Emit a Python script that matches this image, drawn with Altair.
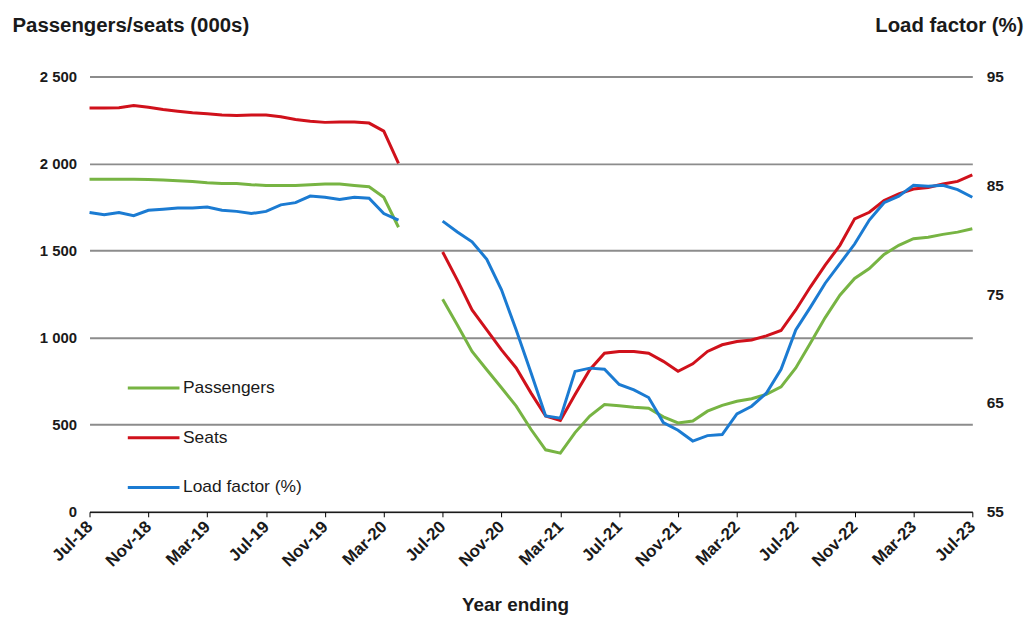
import altair as alt
import pandas as pd

months = [
    "Jul-18", "Aug-18", "Sep-18", "Oct-18", "Nov-18", "Dec-18",
    "Jan-19", "Feb-19", "Mar-19", "Apr-19", "May-19", "Jun-19",
    "Jul-19", "Aug-19", "Sep-19", "Oct-19", "Nov-19", "Dec-19",
    "Jan-20", "Feb-20", "Mar-20", "Apr-20", "May-20", "Jun-20",
    "Jul-20", "Aug-20", "Sep-20", "Oct-20", "Nov-20", "Dec-20",
    "Jan-21", "Feb-21", "Mar-21", "Apr-21", "May-21", "Jun-21",
    "Jul-21", "Aug-21", "Sep-21", "Oct-21", "Nov-21", "Dec-21",
    "Jan-22", "Feb-22", "Mar-22", "Apr-22", "May-22", "Jun-22",
    "Jul-22", "Aug-22", "Sep-22", "Oct-22", "Nov-22", "Dec-22",
    "Jan-23", "Feb-23", "Mar-23", "Apr-23", "May-23", "Jun-23",
    "Jul-23",
]

passengers = [
    1910, 1910, 1910, 1910, 1908, 1905, 1901, 1897, 1889, 1885, 1885, 1878,
    1874, 1874, 1874, 1878, 1882, 1882, 1874, 1866, 1806, 1634, None, None,
    1220, 1073, 921, 816, 712, 607, 474, 356, 337, 455, 550, 616,
    609, 601, 595, 545, 510, 521, 578, 611, 635, 649, 674, 717,
    826, 969, 1115, 1244, 1340, 1397, 1478, 1530, 1568, 1577, 1593, 1606,
    1625,
]

seats = [
    2319, 2319, 2320, 2333, 2323, 2310, 2300, 2291, 2285, 2278, 2276, 2278,
    2278, 2268, 2253, 2243, 2236, 2238, 2238, 2232, 2186, 2000, None, None,
    1492, 1330, 1159, 1045, 930, 826, 683, 550, 525, 674, 816, 911,
    921, 921, 911, 864, 807, 850, 921, 959, 978, 987, 1010, 1041,
    1159, 1292, 1416, 1530, 1682, 1720, 1787, 1825, 1853, 1862, 1882, 1897,
    1935,
]

load_factor = [
    82.5, 82.3, 82.5, 82.2, 82.7, 82.8, 82.9, 82.9, 83.0, 82.7, 82.6, 82.4,
    82.6, 83.2, 83.4, 84.0, 83.9, 83.7, 83.9, 83.8, 82.4, 81.8, None, None,
    81.7, 80.7, 79.8, 78.2, 75.4, 71.7, 67.8, 63.8, 63.6, 67.9, 68.2, 68.1,
    66.7, 66.2, 65.5, 63.2, 62.5, 61.5, 62.0, 62.1, 64.0, 64.7, 65.9, 68.1,
    71.7, 73.8, 76.0, 77.8, 79.6, 81.8, 83.4, 84.0, 85.0, 84.9, 85.0, 84.6,
    83.9,
]

series_names = ["Passengers", "Seats", "Load factor (%)"]
series_colors = ["#77b443", "#d0111b", "#1b7bd2"]
left_ticks = [0, 500, 1000, 1500, 2000, 2500]
right_ticks = [55, 65, 75, 85, 95]
x_ticks = months[::4]

rows = []
for i, m in enumerate(months):
    seg = "before" if i < 22 else "after"
    for name, arr in zip(series_names, (passengers, seats, load_factor)):
        v = arr[i]
        if v is not None:
            rows.append({"month": m, "series": name, "value": v, "segment": seg})
df = pd.DataFrame(rows)

FONT = "Liberation Sans"
TXT = "#1a1a1a"

x_enc = alt.X(
    "month:O",
    scale=alt.Scale(type="point", domain=months, padding=0),
    axis=alt.Axis(
        values=x_ticks,
        labelAngle=315,
        labelAlign="right",
        labelBaseline="middle",
        labelFont=FONT,
        labelFontSize=17,
        labelFontWeight="bold",
        labelColor=TXT,
        labelPadding=7,
        tickSize=5,
        tickColor="#000000",
        domainColor="#000000",
        domainWidth=1,
        grid=False,
        zindex=1,
        title="Year ending",
        titleFont=FONT,
        titleFontSize=19,
        titleFontWeight="bold",
        titleColor=TXT,
        titleAngle=0,
        titleAlign="center",
        titleBaseline="alphabetic",
        titleX=428,
        titleY=99,
    ),
)

color_enc = alt.Color(
    "series:N",
    scale=alt.Scale(domain=series_names, range=series_colors),
    legend=alt.Legend(
        orient="none",
        legendX=37,
        legendY=286,
        title=None,
        symbolType="stroke",
        symbolSize=2704,
        symbolStrokeWidth=3,
        labelFont=FONT,
        labelFontSize=17.5,
        labelColor=TXT,
        labelOffset=2,
        rowPadding=14,
        padding=0,
    ),
)

left = (
    alt.Chart(df)
    .transform_filter(alt.FieldOneOfPredicate(field="series", oneOf=["Passengers", "Seats"]))
    .mark_line(strokeWidth=3)
    .encode(
        x=x_enc,
        y=alt.Y(
            "value:Q",
            scale=alt.Scale(domain=[0, 2500], nice=False, zero=False),
            axis=alt.Axis(
                orient="left",
                values=left_ticks,
                labelExpr="replace(format(datum.value, ','), ',', ' ')",
                labelFont=FONT,
                labelFontSize=15,
                labelFontWeight="bold",
                labelColor=TXT,
                labelPadding=13,
                domain=False,
                ticks=False,
                grid=True,
                gridColor="#8c8c8c",
                gridWidth=2,
                title="Passengers/seats (000s)",
                titleFont=FONT,
                titleFontSize=20.5,
                titleFontWeight="bold",
                titleColor=TXT,
                titleAngle=0,
                titleAlign="left",
                titleBaseline="alphabetic",
                titleX=-78,
                titleY=-45,
            ),
        ),
        color=color_enc,
        detail="segment:N",
    )
)

right = (
    alt.Chart(df)
    .transform_filter(alt.FieldEqualPredicate(field="series", equal="Load factor (%)"))
    .mark_line(strokeWidth=3)
    .encode(
        x=x_enc,
        y=alt.Y(
            "value:Q",
            scale=alt.Scale(domain=[55, 95], nice=False, zero=False),
            axis=alt.Axis(
                orient="right",
                values=right_ticks,
                labelFont=FONT,
                labelFontSize=15.5,
                labelFontWeight="bold",
                labelColor=TXT,
                labelPadding=14,
                domain=False,
                ticks=False,
                grid=False,
                title="Load factor (%)",
                titleFont=FONT,
                titleFontSize=20.5,
                titleFontWeight="bold",
                titleColor=TXT,
                titleAngle=0,
                titleAlign="right",
                titleBaseline="alphabetic",
                titleX=51,
                titleY=-45,
            ),
        ),
        color=color_enc,
        detail="segment:N",
    )
)

chart = (
    alt.layer(left, right)
    .resolve_scale(y="independent")
    .properties(
        width=888,
        height=438,
        padding={"left": 82, "top": 67, "right": 55, "bottom": 104},
        autosize=alt.AutoSizeParams(type="none"),
        background="#ffffff",
    )
    .configure_view(stroke=None)
)

chart.save("out.html", embed_options={"renderer": "svg", "actions": False})
